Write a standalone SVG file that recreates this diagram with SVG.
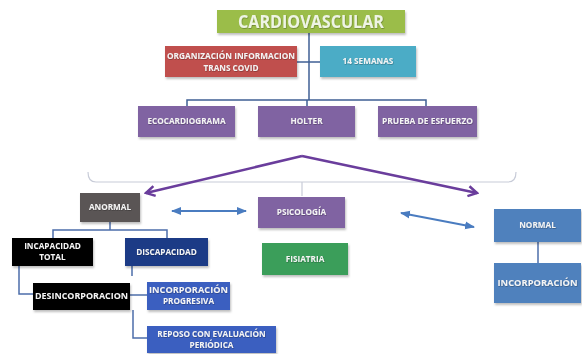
<svg xmlns="http://www.w3.org/2000/svg" width="582" height="354" viewBox="0 0 582 354">
  <defs>
    <filter id="shadow" x="-10%" y="-10%" width="125%" height="140%">
      <feDropShadow dx="1" dy="2" stdDeviation="1.2" flood-color="#000" flood-opacity="0.25"/>
    </filter>
    <filter id="tshadow" x="-5%" y="-20%" width="110%" height="150%">
      <feDropShadow dx="0.5" dy="0.7" stdDeviation="0.4" flood-color="#000" flood-opacity="0.35"/>
    </filter>
    <marker id="chev" viewBox="0 0 10 10" refX="8" refY="5" markerWidth="5" markerHeight="5" orient="auto-start-reverse" markerUnits="strokeWidth">
      <path d="M1,1 L8,5 L1,9" fill="none" stroke="#6a3d9c" stroke-width="2"/>
    </marker>
    <marker id="tri" viewBox="0 0 10 10" refX="9" refY="5" markerWidth="5" markerHeight="5" orient="auto-start-reverse" markerUnits="strokeWidth">
      <path d="M0,1 L10,5 L0,9 Z" fill="#4a7cc0"/>
    </marker>
  </defs>
  <style>
    .box { filter: url(#shadow); }
    .t { font-family: "Open Sans", "Liberation Sans", sans-serif; font-weight: bold; fill: #f4f4f4; text-anchor: middle; font-size: 8.2px; filter: url(#tshadow); }
    .tree { fill: none; stroke: #3f5f94; stroke-width: 1.5; }
    .sub { fill: none; stroke: #4c6eaa; stroke-width: 1.5; }
    .brace { fill: none; stroke: #c8ccd8; stroke-width: 1.2; }
    .purple { fill: none; stroke: #6a3d9c; stroke-width: 2.5; }
    .blue { fill: none; stroke: #4a7cc0; stroke-width: 2; }
  </style>

  <rect width="582" height="354" fill="#ffffff"/>

  <!-- connectors -->
  <g id="connectors">
    <!-- main trunk and branches to the three tests -->
    <path class="tree" d="M309,33 V100"/>
    <path class="tree" d="M297,62 H320"/>
    <path class="tree" d="M187,107 V100 H426 V107"/>
    <path class="tree" d="M307,100 V107"/>
    <!-- brace over the lower section -->
    <path class="brace" d="M88,172 Q88,182 96,182 H508 Q516,182 516,172"/>
    <path class="brace" d="M302,182 V196"/>
    <!-- purple split arrows -->
    <path class="purple" d="M302,156 L146,193" marker-end="url(#chev)"/>
    <path class="purple" d="M302,156 L477,193" marker-end="url(#chev)"/>
    <!-- blue two-way arrows -->
    <path class="blue" d="M172,211 H246" marker-start="url(#tri)" marker-end="url(#tri)"/>
    <path class="blue" d="M401,213 L474,227" marker-start="url(#tri)" marker-end="url(#tri)"/>
    <!-- normal branch -->
    <path class="sub" d="M538,242 V263"/>
    <!-- abnormal branch -->
    <path class="sub" d="M110,222 V230 M53,238 V230 H167 V238"/>
    <path class="sub" d="M19,266 V294 H33"/>
    <path class="sub" d="M132,266 V276"/>
    <path class="sub" d="M130,295 H147"/>
    <path class="sub" d="M133,310 V338 H147"/>
  </g>

  <g id="cardiovascular">
    <rect class="box" x="217" y="10" width="188" height="23" fill="#9bbd4a"/>
    <text class="t" x="311" y="28" style="font-size:18px;fill:#eef4e4" textLength="146" lengthAdjust="spacingAndGlyphs">CARDIOVASCULAR</text>
  </g>

  <g id="organizacion">
    <rect class="box" x="165" y="46" width="132" height="31" fill="#c0504d"/>
    <text class="t" x="231" y="59" textLength="128" lengthAdjust="spacingAndGlyphs">ORGANIZACIÓN INFORMACION</text>
    <text class="t" x="231" y="71">TRANS COVID</text>
  </g>

  <g id="semanas">
    <rect class="box" x="320" y="46" width="96" height="31" fill="#4bacc6"/>
    <text class="t" x="368" y="64">14 SEMANAS</text>
  </g>

  <g id="ecocardiograma">
    <rect class="box" x="138" y="106" width="97" height="31" fill="#8064a2"/>
    <text class="t" x="186.5" y="124">ECOCARDIOGRAMA</text>
  </g>

  <g id="holter">
    <rect class="box" x="258" y="106" width="97" height="31" fill="#8064a2"/>
    <text class="t" x="306.5" y="124">HOLTER</text>
  </g>

  <g id="prueba">
    <rect class="box" x="378" y="106" width="99" height="31" fill="#8064a2"/>
    <text class="t" x="427.5" y="124" textLength="91" lengthAdjust="spacingAndGlyphs">PRUEBA DE ESFUERZO</text>
  </g>

  <g id="anormal">
    <rect class="box" x="80" y="193" width="60" height="29" fill="#5a5555"/>
    <text class="t" x="110" y="210">ANORMAL</text>
  </g>

  <g id="psicologia">
    <rect class="box" x="258" y="197" width="87" height="31" fill="#8064a2"/>
    <text class="t" x="301.5" y="215">PSICOLOGÍA</text>
  </g>

  <g id="fisiatria">
    <rect class="box" x="262" y="243" width="86" height="32" fill="#3a9e5a"/>
    <text class="t" x="305" y="262">FISIATRIA</text>
  </g>

  <g id="normal">
    <rect class="box" x="494" y="209" width="87" height="33" fill="#4f81bd"/>
    <text class="t" x="537.5" y="228">NORMAL</text>
  </g>

  <g id="incorporacion">
    <rect class="box" x="494" y="263" width="87" height="40" fill="#4f81bd"/>
    <text class="t" x="537.5" y="286" textLength="80" lengthAdjust="spacingAndGlyphs">INCORPORACIÓN</text>
  </g>

  <g id="incapacidad">
    <rect class="box" x="12" y="238" width="81" height="28" fill="#000000"/>
    <text class="t" x="52.5" y="249">INCAPACIDAD</text>
    <text class="t" x="52.5" y="260">TOTAL</text>
  </g>

  <g id="discapacidad">
    <rect class="box" x="125" y="238" width="83" height="28" fill="#1f3a86"/>
    <text class="t" x="166.5" y="255">DISCAPACIDAD</text>
  </g>

  <g id="desincorporacion">
    <rect class="box" x="33" y="283" width="97" height="27" fill="#000000"/>
    <text class="t" x="81.5" y="299" textLength="93" lengthAdjust="spacingAndGlyphs">DESINCORPORACION</text>
  </g>

  <g id="progresiva">
    <rect class="box" x="147" y="282" width="83" height="28" fill="#3b5fc0"/>
    <text class="t" x="188.5" y="293" textLength="79" lengthAdjust="spacingAndGlyphs">INCORPORACIÓN</text>
    <text class="t" x="188.5" y="304">PROGRESIVA</text>
  </g>

  <g id="reposo">
    <rect class="box" x="147" y="326" width="129" height="27" fill="#3b5fc0"/>
    <text class="t" x="211.5" y="337">REPOSO CON EVALUACIÓN</text>
    <text class="t" x="211.5" y="348">PERIÓDICA</text>
  </g>
</svg>
